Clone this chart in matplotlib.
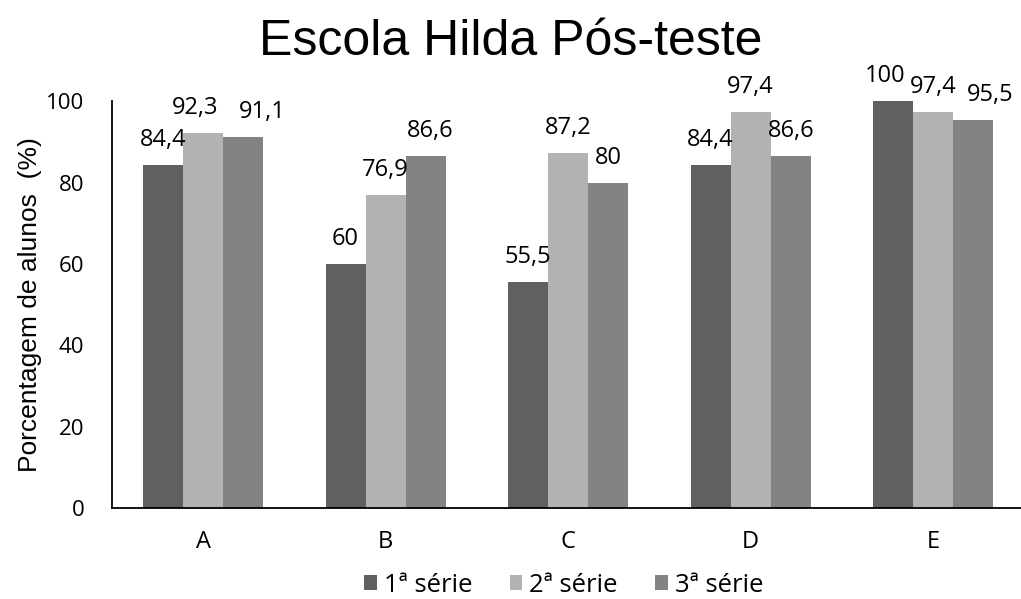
import numpy as np
import matplotlib.pyplot as plt

categories = ["A", "B", "C", "D", "E"]
series_names = ["1ª série", "2ª série", "3ª série"]
serie1 = [84.4, 60, 55.5, 84.4, 100]
serie2 = [92.3, 76.9, 87.2, 97.4, 97.4]
serie3 = [91.1, 86.6, 80, 86.6, 95.5]
colors = ["#606060", "#b2b2b2", "#838383"]

# sideways nudges (points) so neighbouring value labels don't collide
label_dx = {(0, 1): -5.8, (0, 2): 13.7, (1, 2): 3, (4, 0): -5.8, (4, 2): 12.2}

fig = plt.figure(figsize=(10.21, 5.99), dpi=100)
ax = fig.add_axes([0.1097, 0.152, 0.8937, 0.679])

x = np.arange(len(categories))
width = 0.22
for i, (vals, name, c) in enumerate(zip([serie1, serie2, serie3], series_names, colors)):
    pos = x + (i - 1) * width
    ax.bar(pos, vals, width, color=c, label=name)
    for j, (px, v) in enumerate(zip(pos, vals)):
        ax.annotate(f"{v:g}".replace(".", ","), (px, v),
                    xytext=(label_dx.get((j, i), 0), 13.7), textcoords="offset points",
                    ha="center", va="baseline", fontsize=17, family="Open Sans",
                    annotation_clip=False)

ax.set_xlim(-0.5, 4.5)
ax.set_ylim(0, 100)
ax.set_yticks([0, 20, 40, 60, 80, 100])
ax.set_xticks(x)
ax.set_xticklabels(categories)
ax.tick_params(axis="y", length=0, labelsize=16, pad=20)
ax.tick_params(axis="x", length=0, labelsize=17, pad=16)
for lab in ax.get_xticklabels() + ax.get_yticklabels():
    lab.set_family("Open Sans")
ax.spines["top"].set_visible(False)
ax.spines["right"].set_visible(False)
ax.spines["left"].set_linewidth(1.3)
ax.spines["bottom"].set_linewidth(1.3)

ax.set_ylabel("Porcentagem de alunos  (%)", fontsize=19, family="Liberation Sans", labelpad=3)
fig.text(0.5, 0.93, "Escola Hilda Pós-teste", ha="center", va="center",
         fontsize=36, family="Liberation Sans")

ax.legend(loc="center", bbox_to_anchor=(0.495, -0.19), ncol=3, frameon=False,
          prop={"family": "Open Sans", "size": 18.5}, handlelength=0.5, handleheight=0.5,
          handletextpad=0.27, columnspacing=1.45, borderpad=0)

fig.savefig("out.png")
